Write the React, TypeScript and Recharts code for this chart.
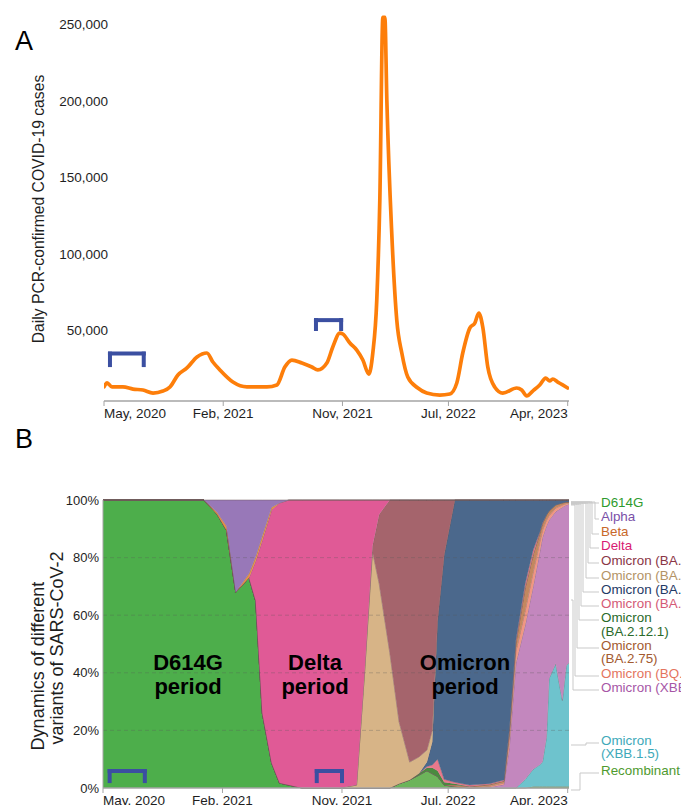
import { Area, AreaChart, Line, LineChart, ReferenceLine, XAxis, YAxis } from "recharts";

const FONT = '"Liberation Sans", Arial, Helvetica, sans-serif';
const INK = "#1e1e1e";
const AXIS_GRAY = "#a4a4a4";
const BRACKET_BLUE = "#3b4fa1";

// x values are months counted from May 2020
const monthTicks = [0, 9, 18, 26, 35];
const monthLabels = ["May, 2020", "Feb, 2021", "Nov, 2021", "Jul, 2022", "Apr, 2023"];

// ---- panel A: daily PCR-confirmed cases ----
const caseMonths = [
  0, 0.23, 0.6, 1.43, 2.19, 2.94, 3.7, 4.45, 4.98, 5.58,
  6.26, 7.02, 7.77, 8.22, 8.75, 9.73, 10.79, 12.3, 13.05, 13.65,
  14.18, 14.94, 15.69, 16.14, 16.82, 17.27, 17.8, 18.03, 18.56, 19.08,
  19.54, 19.99, 20.29, 20.59, 20.82, 21.05, 21.2, 21.35, 21.72, 22.1,
  22.48, 22.93, 23.69, 24.36, 25.35, 26.1, 26.63, 27.08, 27.61, 27.99,
  28.29, 28.59, 28.97, 29.49, 30.1, 31.15, 31.53, 31.91, 32.36, 32.89,
  33.34, 33.64, 33.87, 34.25, 34.62, 35.0,
];
const dailyCases = [
  12800, 15400, 12800, 12800, 11400, 10800, 8800, 10100, 12800, 20600,
  25200, 32400, 35000, 29100, 23900, 16000, 12800, 12800, 14100, 25800,
  30400, 28400, 25800, 23900, 28400, 38900, 48000, 47400, 41500, 36900,
  30400, 21200, 35000, 69600, 135000, 254600, 254600, 200300, 113400, 56500,
  35000, 19300, 12100, 8800, 7500, 8200, 15400, 35000, 51300, 54600,
  61100, 52000, 25800, 12800, 8800, 12100, 10800, 6900, 10100, 14100,
  18600, 16700, 18000, 16000, 14100, 12100,
];
const caseTicks = [50000, 100000, 150000, 200000, 250000];

// ---- panel B: share of each variant (%) ----
const variantMonths = [
  0, 7.6, 8.6, 9.3, 10.0, 11.0, 11.5, 12.0, 12.7, 13.3,
  14.0, 15.0, 17.8, 19.1, 19.7, 20.3, 20.8, 21.6, 22.3, 23.1,
  23.8, 24.4, 24.8, 25.2, 25.7, 26.5, 27.6, 29.1, 30.2, 30.6,
  31.1, 31.8, 32.4, 32.9, 33.1, 33.4, 33.6, 34.1, 34.6, 34.9,
  35.1,
];
const d614g = [
  100, 100, 95, 89.5, 68, 73, 65, 26, 8.7, 1.7,
  1, 0, 0, 0, 0, 0, 0, 0, 0, 0,
  0, 0, 0, 0, 0, 0, 0, 0, 0, 0,
  0, 0, 0, 0, 0, 0, 0, 0, 0, 0,
  0,
];
const recombinant = [
  0, 0, 0, 0, 0, 0, 0, 0, 0, 0,
  0, 0, 0, 0, 0, 0, 0, 0, 1.5, 2.8,
  4.5, 6, 5, 4, 1, 0.5, 0, 0, 0, 0,
  0, 0, 0.5, 0.5, 0.5, 0.5, 0.5, 0.5, 0.5, 0.5,
  0.5,
];
const xbb15 = [
  0, 0, 0, 0, 0, 0, 0, 0, 0, 0,
  0, 0, 0, 0, 0, 0, 0, 0, 0, 0,
  0, 0, 0, 0, 0, 0, 0, 0, 0, 0,
  0, 3, 6, 7.6, 8.5, 17, 37.5, 42.7, 29.9, 42,
  43,
];
const xbb = [
  0, 0, 0, 0, 0, 0, 0, 0, 0, 0,
  0, 0, 0, 0, 0, 0, 0, 0, 0, 0,
  0, 0, 0, 0, 0, 0, 0, 0.3, 1.2, 14,
  43.4, 53.6, 63.5, 73.9, 78, 73.5, 55, 52.8, 67.1, 55.8,
  55,
];
const bq = [
  0, 0, 0, 0, 0, 0, 0, 0, 0, 0,
  0, 0, 0, 0, 0, 0, 0, 0, 0, 0,
  0, 0, 0, 0, 0, 0, 0, 0.3, 0.6, 3,
  4, 5, 5, 3.5, 2.5, 2, 1.6, 1.2, 0.8, 0.5,
  0.4,
];
const ba275 = [
  0, 0, 0, 0, 0, 0, 0, 0, 0, 0,
  0, 0, 0, 0, 0, 0, 0, 0, 0, 0,
  0, 0, 0, 0, 0, 0.5, 0.5, 0.6, 0.6, 2,
  3, 8, 6, 3, 2.2, 1.8, 1.6, 1.1, 0.7, 0.5,
  0.4,
];
const ba2121 = [
  0, 0, 0, 0, 0, 0, 0, 0, 0, 0,
  0, 0, 0, 0, 0, 0, 0, 0, 0, 0,
  0.5, 1, 2, 2, 1, 0.5, 0, 0, 0, 0,
  0, 0, 0, 0, 0, 0, 0, 0, 0, 0,
  0,
];
const ba4 = [
  0, 0, 0, 0, 0, 0, 0, 0, 0, 0,
  0, 0, 0, 0, 0, 0, 0, 0, 0, 0,
  0, 0.5, 1, 4, 1, 0.5, 0.5, 0.3, 0.4, 1,
  1, 1.4, 1.6, 0.4, 0.3, 0, 0, 0, 0, 0,
  0,
];
const ba5 = [
  0, 0, 0, 0, 0, 0, 0, 0, 0, 0,
  0, 0, 0, 0, 0, 0, 0, 0, 0, 0,
  0, 1.5, 8, 48, 78, 98, 99, 98.5, 97.2, 80,
  48.6, 29, 17.4, 11.1, 8, 5.2, 3.8, 1.7, 1, 0.7,
  0.7,
];
const ba1 = [
  0, 0, 0, 0, 0, 0, 0, 0, 0, 0,
  0, 0, 0, 1, 40, 82, 71, 47, 21.5, 6.2,
  5.8, 4.2, 4, 0, 0, 0, 0, 0, 0, 0,
  0, 0, 0, 0, 0, 0, 0, 0, 0, 0,
  0,
];
const ba2 = [
  0, 0, 0, 0, 0, 0, 0, 0, 0, 0,
  0, 0, 0, 0, 0, 2, 24, 53, 77, 91,
  89.2, 86.8, 80, 42, 19, 0, 0, 0, 0, 0,
  0, 0, 0, 0, 0, 0, 0, 0, 0, 0,
  0,
];
const delta = [
  0, 0, 0, 0, 0, 0, 13.8, 60, 87.8, 97.3,
  99, 100, 100, 99, 60, 16, 5, 0, 0, 0,
  0, 0, 0, 0, 0, 0, 0, 0, 0, 0,
  0, 0, 0, 0, 0, 0, 0, 0, 0, 0,
  0,
];
const beta = [
  0, 0, 0.7, 1.5, 0, 1.5, 1.5, 1.6, 1, 0,
  0, 0, 0, 0, 0, 0, 0, 0, 0, 0,
  0, 0, 0, 0, 0, 0, 0, 0, 0, 0,
  0, 0, 0, 0, 0, 0, 0, 0, 0, 0,
  0,
];
const alpha = [
  0, 0, 4.3, 9, 32, 25.5, 19.7, 12.4, 2.5, 1,
  0, 0, 0, 0, 0, 0, 0, 0, 0, 0,
  0, 0, 0, 0, 0, 0, 0, 0, 0, 0,
  0, 0, 0, 0, 0, 0, 0, 0, 0, 0,
  0,
];
const shareTicks = [0, 0.2, 0.4, 0.6, 0.8, 1];
const shareGrid = [0.2, 0.4, 0.6, 0.8];

// sampling windows marked with brackets
const caseBrackets = [
  { from: 0.45, to: 3.0, top: 34600, foot: 27100 },
  { from: 16.0, to: 17.9, top: 56500, foot: 50700 },
];
const shareBrackets = [
  { from: 0.5, to: 3.15, top: 0.059, foot: 0.024 },
  { from: 16.1, to: 18.0, top: 0.059, foot: 0.024 },
];

const caseRows = caseMonths.map((m, i) => ({ m, cases: dailyCases[i] }));

// stacking order, bottom to top
const variantSeries = [
  { key: "d614g", values: d614g, fill: "#4dae4b" },
  { key: "recombinant", values: recombinant, fill: "#6cb45a" },
  { key: "xbb15", values: xbb15, fill: "#6ec3cd" },
  { key: "xbb", values: xbb, fill: "#c387be" },
  { key: "bq", values: bq, fill: "#f09682" },
  { key: "ba275", values: ba275, fill: "#c3875f" },
  { key: "ba2121", values: ba2121, fill: "#4a8a40" },
  { key: "ba4", values: ba4, fill: "#e8788c" },
  { key: "ba5", values: ba5, fill: "#4b688c" },
  { key: "ba1", values: ba1, fill: "#d7b487" },
  { key: "ba2", values: ba2, fill: "#a5646c" },
  { key: "delta", values: delta, fill: "#e05a96" },
  { key: "beta", values: beta, fill: "#e69146" },
  { key: "alpha", values: alpha, fill: "#9878b8" },
];

const variantRows = variantMonths.map((m, i) => {
  const row: Record<string, number> = { m };
  variantSeries.forEach((s) => {
    row[s.key] = s.values[i];
  });
  return row;
});

const legendEntries = [
  { lines: ["D614G"], color: "#2e9a2e" },
  { lines: ["Alpha"], color: "#7a4fa8" },
  { lines: ["Beta"], color: "#c8682a" },
  { lines: ["Delta"], color: "#d81b72" },
  { lines: ["Omicron (BA.2)"], color: "#8a3646" },
  { lines: ["Omicron (BA.1)"], color: "#b39366" },
  { lines: ["Omicron (BA.5)"], color: "#1f3a66" },
  { lines: ["Omicron (BA.4)"], color: "#d45a76" },
  { lines: ["Omicron", "(BA.2.12.1)"], color: "#2a6a2a" },
  { lines: ["Omicron", "(BA.2.75)"], color: "#a35a30" },
  { lines: ["Omicron (BQ.1)"], color: "#e4745e" },
  { lines: ["Omicron (XBB)"], color: "#a656a6" },
  { lines: ["Omicron", "(XBB.1.5)"], color: "#3ea9b9" },
  { lines: ["Recombinant"], color: "#4f9a2f" },
];
const legendRowY = [502, 516, 531, 545, 560, 575, 589, 603, 617, 645, 673, 687, 740, 770];
const legendLineGap = [14, 14, 14, 14, 14, 14, 14, 14, 14, 13, 14, 14, 13.5, 14];
const leaderFromY = [503, 502, 502, 502, 503, 503, 503, 504, 504, 504, 505, 600, 745, 790];
const leaderElbowX = [590, 595, 592, 590, 588, 586, 583, 581, 579, 577, 575, 573, 586, 580];

function MonthTick(props: any) {
  const { x, y, payload } = props;
  const i = monthTicks.indexOf(payload.value);
  const anchor = i === 0 ? "start" : i === monthTicks.length - 1 ? "end" : "middle";
  return (
    <text x={x} y={y} dy={10} textAnchor={anchor} fontSize={13.5} fontFamily={FONT} fill={INK}>
      {monthLabels[i]}
    </text>
  );
}

function CaseTick(props: any) {
  const { x, y, payload } = props;
  return (
    <text x={x + 4} y={y} dy={5} textAnchor="end" fontSize={13.5} fontFamily={FONT} fill={INK}>
      {Number(payload.value).toLocaleString("en-US")}
    </text>
  );
}

function bracketLines(list: { from: number; to: number; top: number; foot: number }[], prefix: string) {
  const common = {
    stroke: BRACKET_BLUE,
    strokeWidth: 4,
    strokeLinecap: "square" as const,
    ifOverflow: "visible" as const,
  };
  return list.flatMap((b, i) => [
    <ReferenceLine key={`${prefix}t${i}`} segment={[{ x: b.from, y: b.top }, { x: b.to, y: b.top }]} {...common} />,
    <ReferenceLine key={`${prefix}l${i}`} segment={[{ x: b.from, y: b.top }, { x: b.from, y: b.foot }]} {...common} />,
    <ReferenceLine key={`${prefix}r${i}`} segment={[{ x: b.to, y: b.top }, { x: b.to, y: b.foot }]} {...common} />,
  ]);
}

function CasesChart() {
  return (
    <LineChart width={681} height={430} data={caseRows} margin={{ top: 9, right: 112, bottom: 0, left: 0 }}>
      <XAxis
        dataKey="m"
        type="number"
        domain={[0, 35.1]}
        allowDataOverflow
        ticks={monthTicks}
        interval={0}
        height={29}
        axisLine={{ stroke: AXIS_GRAY, strokeWidth: 1.5 }}
        tickLine={{ stroke: AXIS_GRAY }}
        tickSize={5}
        tickMargin={2}
        tick={<MonthTick />}
      />
      <YAxis
        type="number"
        domain={[3600, 260000]}
        allowDataOverflow
        ticks={caseTicks}
        interval={0}
        width={104}
        axisLine={false}
        tickLine={false}
        tickSize={0}
        tickMargin={0}
        tick={<CaseTick />}
      />
      <Line
        dataKey="cases"
        type="monotone"
        stroke="#fd7e0a"
        strokeWidth={3.7}
        strokeLinejoin="round"
        strokeLinecap="round"
        dot={false}
        activeDot={false}
        isAnimationActive={false}
      />
      {bracketLines(caseBrackets, "a")}
    </LineChart>
  );
}

function VariantChart() {
  return (
    <AreaChart
      width={681}
      height={390}
      data={variantRows}
      stackOffset="expand"
      margin={{ top: 70, right: 112, bottom: 2, left: 0 }}
    >
      <XAxis
        dataKey="m"
        type="number"
        domain={[0, 35.1]}
        allowDataOverflow
        ticks={monthTicks}
        interval={0}
        height={30}
        axisLine={{ stroke: AXIS_GRAY, strokeWidth: 1.5 }}
        tickLine={{ stroke: AXIS_GRAY }}
        tickSize={5}
        tickMargin={2}
        tick={<MonthTick />}
      />
      <YAxis
        type="number"
        domain={[0, 1]}
        ticks={shareTicks}
        interval={0}
        width={103}
        axisLine={{ stroke: AXIS_GRAY }}
        tickLine={false}
        tickSize={0}
        tickMargin={4}
        tickFormatter={(v) => `${Math.round(Number(v) * 100)}%`}
        tick={{ fontSize: 13, fill: INK, fontFamily: FONT }}
      />
      {variantSeries.map((s) => (
        <Area
          key={s.key}
          dataKey={s.key}
          stackId="v"
          type="linear"
          fill={s.fill}
          fillOpacity={1}
          stroke="#6e5a5a"
          strokeWidth={0.7}
          strokeOpacity={0.7}
          dot={false}
          activeDot={false}
          isAnimationActive={false}
        />
      ))}
      {shareGrid.map((g) => (
        <ReferenceLine key={g} y={g} stroke="rgba(90,90,90,0.3)" strokeDasharray="4 3" />
      ))}
      {bracketLines(shareBrackets, "b")}
    </AreaChart>
  );
}

function Annotations() {
  const bold = { fontFamily: FONT, fontWeight: 700, fontSize: 22, fill: "#000", textAnchor: "middle" as const };
  return (
    <svg width={681} height={805} style={{ position: "absolute", left: 0, top: 0, pointerEvents: "none" }}>
      <text x={15} y={50} fontSize={27} fontFamily={FONT} fill="#000">A</text>
      <text x={15} y={448} fontSize={27} fontFamily={FONT} fill="#000">B</text>
      <text transform="translate(44,209) rotate(-90)" textAnchor="middle" fontSize={15.7} fontFamily={FONT} fill={INK}>
        Daily PCR-confirmed COVID-19 cases
      </text>
      <text transform="translate(44,666) rotate(-90)" textAnchor="middle" fontSize={18} fontFamily={FONT} fill={INK}>
        Dynamics of different
      </text>
      <text transform="translate(63,648) rotate(-90)" textAnchor="middle" fontSize={18} fontFamily={FONT} fill={INK}>
        variants of SARS-CoV-2
      </text>

      <text x={188} y={670} {...bold}>D614G</text>
      <text x={188} y={694} {...bold}>period</text>
      <text x={315} y={670} {...bold}>Delta</text>
      <text x={315} y={694} {...bold}>period</text>
      <text x={465} y={670} {...bold}>Omicron</text>
      <text x={465} y={694} {...bold}>period</text>

      {legendEntries.map((e, i) => {
        const to = i === 0 ? leaderFromY[i] : legendRowY[i] + 3;
        return (
          <path
            key={`l${i}`}
            d={`M571,${leaderFromY[i]} H${leaderElbowX[i]} V${to} H599`}
            fill="none"
            stroke="#c9c9c9"
            strokeWidth={1}
          />
        );
      })}
      {legendEntries.map((e, i) => (
        <text key={`t${i}`} x={601} y={legendRowY[i]} fontSize={13.4} fontFamily={FONT} fill={e.color}>
          {e.lines.map((line, j) => (
            <tspan key={j} x={601} dy={j === 0 ? "0.36em" : legendLineGap[i]}>
              {line}
            </tspan>
          ))}
        </text>
      ))}
    </svg>
  );
}

export default function App() {
  return (
    <div
      style={{
        position: "absolute",
        left: 0,
        top: 0,
        width: 681,
        height: 805,
        overflow: "hidden",
        background: "#fff",
        fontFamily: FONT,
      }}
    >
      <div style={{ position: "absolute", left: 0, top: 0 }}>
        <CasesChart />
      </div>
      <div style={{ position: "absolute", left: 0, top: 430 }}>
        <VariantChart />
      </div>
      <Annotations />
    </div>
  );
}
